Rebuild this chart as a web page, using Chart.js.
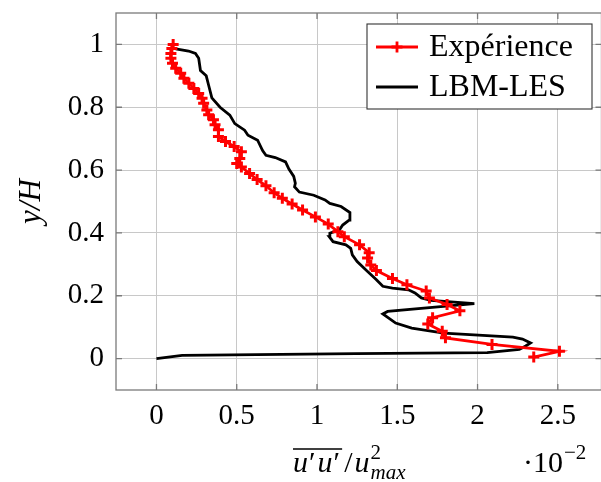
<!DOCTYPE html>
<html>
<head>
<meta charset="utf-8">
<script src="https://cdn.jsdelivr.net/npm/chart.js@4"></script>
<style>
  body { margin: 0; overflow: hidden; background: #fff; }
  #wrap { width: 610px; height: 482px; }
</style>
</head>
<body>
<div id="wrap"><canvas id="profile"></canvas></div>
<script>
// tick values
const xTicks = [0, 0.5, 1, 1.5, 2, 2.5];
const yTicks = [0, 0.2, 0.4, 0.6, 0.8, 1];

// Experience (x in units of 1e-2)
const expX = [2.35, 2.51, 2.09, 1.80, 1.78, 1.69, 1.72, 1.89, 1.81, 1.70, 1.68, 1.56, 1.47, 1.37, 1.335, 1.315, 1.325, 1.265,
  1.17, 1.13, 1.07, 0.99, 0.91, 0.845, 0.784, 0.733, 0.682, 0.627, 0.58, 0.529, 0.50, 0.519, 0.529, 0.484, 0.43, 0.386,
  0.386, 0.365, 0.355, 0.325, 0.314, 0.294, 0.284, 0.263, 0.233, 0.202, 0.171, 0.151, 0.12, 0.10, 0.09, 0.09, 0.096, 0.104];
const expY = [0.005, 0.023, 0.045, 0.066, 0.087, 0.11, 0.13, 0.152, 0.172, 0.193, 0.215, 0.235, 0.255, 0.28, 0.298, 0.32, 0.337, 0.362,
  0.388, 0.404, 0.428, 0.451, 0.473, 0.492, 0.51, 0.528, 0.55, 0.57, 0.589, 0.61, 0.621, 0.637, 0.658, 0.675, 0.691, 0.707,
  0.728, 0.744, 0.76, 0.776, 0.791, 0.813, 0.829, 0.844, 0.86, 0.876, 0.892, 0.908, 0.924, 0.94, 0.956, 0.971, 0.987, 1.0];

// LBM-LES
const lesX = [0, 0.16, 1.24, 2.06, 2.26, 2.30, 2.33, 2.28, 2.22, 1.79, 1.59, 1.49, 1.41, 1.44, 1.98, 1.71, 1.65, 1.61, 1.57,
  1.47, 1.41, 1.37, 1.315, 1.25, 1.22, 1.21, 1.18, 1.10, 1.076, 1.08, 1.14, 1.16, 1.20, 1.205, 1.15, 1.08, 1.05, 0.98, 0.89,
  0.86, 0.865, 0.855, 0.825, 0.804, 0.74, 0.682, 0.661, 0.63, 0.57, 0.549, 0.488, 0.457, 0.396, 0.345, 0.325, 0.31, 0.274,
  0.263, 0.243, 0.20, 0.12];
const lesY = [0, 0.01, 0.016, 0.019, 0.029, 0.04, 0.05, 0.062, 0.068, 0.081, 0.097, 0.113, 0.142, 0.15, 0.175, 0.185, 0.193, 0.209, 0.219,
  0.224, 0.23, 0.251, 0.277, 0.309, 0.33, 0.351, 0.362, 0.372, 0.388, 0.399, 0.41, 0.425, 0.441, 0.465, 0.484, 0.494, 0.505, 0.52, 0.53,
  0.547, 0.558, 0.58, 0.603, 0.626, 0.64, 0.647, 0.662, 0.695, 0.711, 0.727, 0.748, 0.775, 0.80, 0.83, 0.87, 0.90, 0.917,
  0.956, 0.971, 0.979, 0.986];

const serif = 'Liberation Serif';
const fsize = 29;   // tick labels
const lsize = 30;   // titles
const legSize = 32; // legend
const axisGray = '#7a7a7a';

function pairUp(xs, ys) {
    return xs.map((x, i) => ({ x: x, y: ys[i] }));
}

// frame, inward ticks, legend, x title
const extras = {
    id: 'extras',
    afterDraw(chart) {
        const ctx = chart.ctx;
        const a = chart.chartArea;
        const sx = chart.scales.x, sy = chart.scales.y;
        ctx.save();
        ctx.strokeStyle = axisGray;
        ctx.lineWidth = 1.3;
        ctx.strokeRect(a.left, a.top, a.right - a.left, a.bottom - a.top);
        ctx.beginPath();
        xTicks.forEach(v => {
            const p = sx.getPixelForValue(v);
            ctx.moveTo(p, a.bottom); ctx.lineTo(p, a.bottom - 6);
            ctx.moveTo(p, a.top); ctx.lineTo(p, a.top + 6);
        });
        yTicks.forEach(v => {
            const p = sy.getPixelForValue(v);
            ctx.moveTo(a.left, p); ctx.lineTo(a.left + 6, p);
            ctx.moveTo(a.right, p); ctx.lineTo(a.right - 6, p);
        });
        ctx.stroke();

        // legend
        const bx = 367, by = 24, bw = 225, bh = 85;
        ctx.fillStyle = '#fff';
        ctx.fillRect(bx, by, bw, bh);
        ctx.strokeStyle = '#333';
        ctx.lineWidth = 1.1;
        ctx.strokeRect(bx, by, bw, bh);
        const rows = [
            { label: 'Expérience', color: '#ff0000', mark: true, y: by + 23 },
            { label: 'LBM-LES', color: '#000', mark: false, y: by + 63 }
        ];
        rows.forEach(r => {
            ctx.strokeStyle = r.color;
            ctx.lineWidth = 2.8;
            ctx.beginPath();
            ctx.moveTo(bx + 9, r.y); ctx.lineTo(bx + 51, r.y);
            ctx.stroke();
            if (r.mark) {
                ctx.beginPath();
                ctx.moveTo(bx + 30 - 5.5, r.y); ctx.lineTo(bx + 30 + 5.5, r.y);
                ctx.moveTo(bx + 30, r.y - 5.5); ctx.lineTo(bx + 30, r.y + 5.5);
                ctx.stroke();
            }
            ctx.fillStyle = '#000';
            ctx.font = legSize + 'px "' + serif + '"';
            ctx.textBaseline = 'middle';
            ctx.textAlign = 'left';
            ctx.fillText(r.label, bx + 62, r.y + 1);
        });

        // x title: overline(u'u') / u^2_max, centred under the axis
        ctx.fillStyle = '#000';
        ctx.textBaseline = 'alphabetic';
        ctx.textAlign = 'left';
        let x = 293;
        const base = 472;
        ctx.font = 'italic ' + lsize + 'px "' + serif + '"';
        const wu = ctx.measureText('u').width;
        ctx.fillText('u', x, base);
        ctx.font = lsize + 'px "' + serif + '"';
        ctx.fillText('\u2032', x + wu + 1, base);
        const wp = ctx.measureText('\u2032').width;
        ctx.font = 'italic ' + lsize + 'px "' + serif + '"';
        ctx.fillText('u', x + wu + wp + 3, base);
        ctx.font = lsize + 'px "' + serif + '"';
        ctx.fillText('\u2032', x + 2 * wu + wp + 4, base);
        const w1 = 2 * wu + 2 * wp + 5;
        ctx.strokeStyle = '#000';
        ctx.lineWidth = 1.3;
        ctx.beginPath();
        ctx.moveTo(x, base - 23); ctx.lineTo(x + w1 + 1, base - 23);
        ctx.stroke();
        x += w1 + 3;
        ctx.fillText('/', x, base);
        x += ctx.measureText('/').width + 2;
        ctx.font = 'italic ' + lsize + 'px "' + serif + '"';
        ctx.fillText('u', x, base);
        x += wu + 1;
        ctx.font = '21px "' + serif + '"';
        ctx.fillText('2', x, base - 13);
        ctx.font = 'italic 21px "' + serif + '"';
        ctx.fillText('max', x, base + 7);

        // multiplier
        ctx.font = lsize + 'px "' + serif + '"';
        ctx.fillText('\u00b710', 523, 472);
        const wm = ctx.measureText('\u00b710').width;
        ctx.font = '21px "' + serif + '"';
        ctx.fillText('\u22122', 523 + wm + 1, 459);
        ctx.restore();
    }
};

const tickFont = { family: serif, size: fsize };

const config = {
    type: 'scatter',
    data: {
        datasets: [{
            label: 'Expérience',
            data: pairUp(expX, expY),
            showLine: true,
            borderColor: '#ff0000',
            backgroundColor: '#ff0000',
            borderWidth: 2.8,
            pointStyle: 'cross',
            pointRadius: 5.5,
            pointBorderWidth: 3,
            pointHoverRadius: 5.5,
            order: 1
        }, {
            label: 'LBM-LES',
            data: pairUp(lesX, lesY),
            showLine: true,
            borderColor: '#000',
            backgroundColor: '#000',
            borderWidth: 2.8,
            pointRadius: 0,
            order: 2
        }]
    },
    options: {
        responsive: true,
        maintainAspectRatio: false,
        animation: false,
        devicePixelRatio: 1,
        layout: { padding: { top: 13, left: 0, right: 0, bottom: 0 } },
        plugins: {
            legend: { display: false },
            tooltip: { enabled: false }
        },
        scales: {
            x: {
                type: 'linear',
                min: -0.252,
                max: 2.772,
                afterFit: s => { s.height = 92; s.paddingLeft = 0; s.paddingRight = 0; },
                afterBuildTicks: s => { s.ticks = xTicks.map(v => ({ value: v })); },
                grid: { color: '#c8c8c8', lineWidth: 1, drawTicks: false },
                border: { display: false },
                ticks: { font: tickFont, color: '#000', padding: 9, maxRotation: 0, autoSkip: false,
                    callback: v => String(v) }
            },
            y: {
                type: 'linear',
                min: -0.1,
                max: 1.1,
                afterFit: s => { s.width = 116; s.paddingTop = 0; s.paddingBottom = 0; },
                afterBuildTicks: s => { s.ticks = yTicks.map(v => ({ value: v })); },
                grid: { color: '#c8c8c8', lineWidth: 1, drawTicks: false },
                border: { display: false },
                title: { display: true, text: 'y/H', color: '#000',
                    font: { family: serif, size: lsize + 1, style: 'italic' }, padding: { top: 13, bottom: 0 } },
                ticks: { font: tickFont, color: '#000', padding: 12, autoSkip: false,
                    callback: v => String(v) }
            }
        }
    },
    plugins: [extras]
};

new Chart(document.getElementById('profile'), config);
</script>
</body>
</html>
